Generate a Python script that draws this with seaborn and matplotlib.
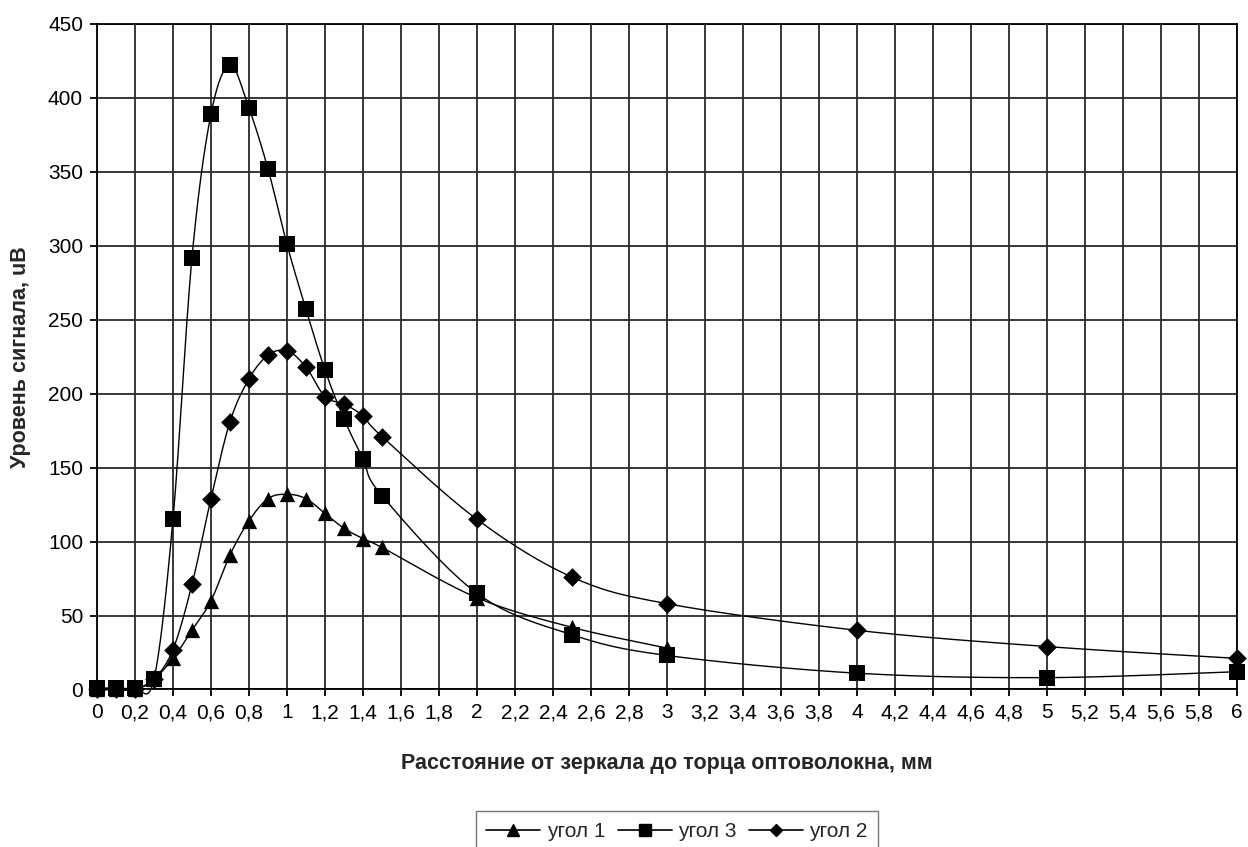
import numpy as np
import pandas as pd
import matplotlib
matplotlib.use("Agg")
import matplotlib.pyplot as plt
from matplotlib.lines import Line2D
import seaborn as sns

# Distance from mirror to fibre end, mm
x_dist = [0, 0.1, 0.2, 0.3, 0.4, 0.5, 0.6, 0.7, 0.8, 0.9, 1.0, 1.1, 1.2, 1.3, 1.4, 1.5,
          2, 2.5, 3, 4, 5, 6]

# Signal level for each angle
angle1 = [0, 0, 0, 7, 21, 40, 60, 91, 114, 129, 132, 129, 119, 109, 102, 96,
          62, 42, 28]
angle3 = [1, 1, 1, 7, 115, 292, 389, 422, 393, 352, 301, 257, 216, 183, 156, 131,
          65, 37, 23, 11, 8, 12]
angle2 = [0, 0, 0, 7, 27, 71, 129, 181, 210, 226, 229, 218, 198, 193, 185, 171,
          115, 76, 58, 40, 29, 21]

series_names = ["угол 1", "угол 3", "угол 2"]
series_values = [angle1, angle3, angle2]
series_markers = ["^", "s", "D"]
series_msize = [11, 11, 9.5]
legend_msize = [8, 8, 6]

x_ticks = [round(0.2 * i, 1) for i in range(31)]
x_tick_labels = [("%g" % v).replace(".", ",") for v in x_ticks]
y_ticks = list(range(0, 451, 50))

x_title = "Расстояние от зеркала до торца оптоволокна, мм"
y_title = "Уровень сигнала, uB"


def catmull_rom(xs, ys, n=30):
    """Smooth curve through the points (uniform Catmull-Rom)."""
    p = np.column_stack([xs, ys]).astype(float)
    p_ext = np.vstack([p[0], p, p[-1]])
    out = []
    t = np.linspace(0, 1, n, endpoint=False)
    for i in range(1, len(p_ext) - 2):
        p0, p1, p2, p3 = p_ext[i - 1], p_ext[i], p_ext[i + 1], p_ext[i + 2]
        c1 = p1 + (p2 - p0) / 6.0
        c2 = p2 - (p3 - p1) / 6.0
        seg = ((1 - t)[:, None] ** 3 * p1 + 3 * ((1 - t) ** 2 * t)[:, None] * c1
               + 3 * ((1 - t) * t ** 2)[:, None] * c2 + (t ** 3)[:, None] * p2)
        out.append(seg)
    out.append(p[-1][None, :])
    return np.vstack(out)


sns.set_theme(style="white")
plt.rcParams["font.family"] = ["Liberation Sans", "DejaVu Sans"]

fig = plt.figure(figsize=(12.48, 8.47), dpi=100)
ax = fig.add_axes([0.0777, 0.186, 0.9135, 0.7857])

for name, vals, mk, ms in zip(series_names, series_values, series_markers, series_msize):
    xs = x_dist[:len(vals)]
    curve = catmull_rom(xs, vals)
    smooth = pd.DataFrame({"x": curve[:, 0], "y": curve[:, 1]})
    sns.lineplot(data=smooth, x="x", y="y", sort=False, color="black",
                 linewidth=1.0, ax=ax, zorder=3, clip_on=False)
    pts = pd.DataFrame({"x": xs, "y": vals})
    sns.scatterplot(data=pts, x="x", y="y", marker=mk, s=ms ** 2, color="black",
                    edgecolor="black", linewidth=0, ax=ax, zorder=4, clip_on=False)

ax.set_xlim(0, 6)
ax.set_ylim(0, 450)
ax.set_xticks(x_ticks)
ax.set_xticklabels(x_tick_labels)
ax.set_yticks(y_ticks)
ax.grid(True, color="#2a2a2a", linewidth=1.3)
ax.set_axisbelow(True)
for sp in ax.spines.values():
    sp.set_color("black")
    sp.set_linewidth(1.3)
ax.tick_params(axis="both", direction="out", length=5, width=1.3, color="black",
               labelsize=15, labelcolor="black", bottom=True, left=True)
ax.tick_params(axis="x", pad=5)
ax.tick_params(axis="y", pad=5)

ax.set_xlabel(x_title, fontsize=15.5, fontweight="bold", labelpad=22)
ax.set_ylabel(y_title, fontsize=15.5, fontweight="bold", labelpad=12)

handles = [Line2D([0], [0], color="black", linewidth=1.2, marker=mk, markersize=lm,
                  markerfacecolor="black", markeredgecolor="black")
           for mk, lm in zip(series_markers, legend_msize)]
fig.legend(handles, series_names, loc="upper center",
           bbox_to_anchor=(677 / 1248, 1 - 801 / 847), ncol=3, fontsize=15,
           frameon=True, fancybox=False, edgecolor="#555555", handlelength=2.6,
           handletextpad=0.3, columnspacing=0.6, borderpad=0.5)

fig.savefig("out.png", dpi=100, facecolor="white")
